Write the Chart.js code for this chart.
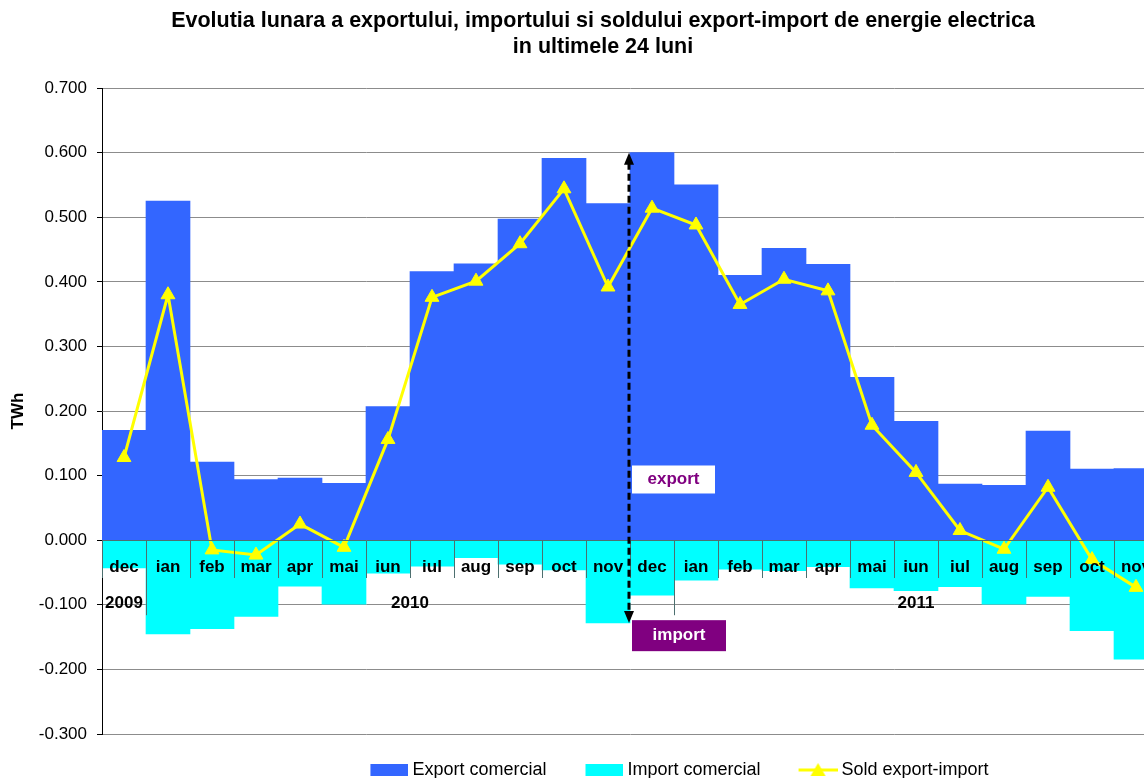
<!DOCTYPE html>
<html>
<head>
<meta charset="utf-8">
<script src="https://cdn.jsdelivr.net/npm/chart.js@4/dist/chart.umd.min.js"></script>
<style>
html, body { margin: 0; padding: 0; overflow: hidden; background: #fff; }
canvas { display: block; }
</style>
</head>
<body>
<canvas id="grafic" width="1207" height="786"></canvas>
<script>
// luni si ani (ultimele 24 luni)
var luni = ['dec', 'ian', 'feb', 'mar', 'apr', 'mai', 'iun', 'iul', 'aug', 'sep', 'oct', 'nov',
            'dec', 'ian', 'feb', 'mar', 'apr', 'mai', 'iun', 'iul', 'aug', 'sep', 'oct', 'nov'];
var ani = ['2009',
           '2010', '2010', '2010', '2010', '2010', '2010', '2010', '2010', '2010', '2010', '2010', '2010',
           '2011', '2011', '2011', '2011', '2011', '2011', '2011', '2011', '2011', '2011', '2011'];

// valori in TWh
var exportComercial = [0.170, 0.525, 0.121, 0.094, 0.096, 0.088, 0.207, 0.416, 0.428, 0.497, 0.591, 0.521,
                       0.600, 0.550, 0.410, 0.452, 0.427, 0.252, 0.184, 0.087, 0.085, 0.169, 0.110, 0.111];
var importComercial = [-0.043, -0.145, -0.137, -0.118, -0.071, -0.099, -0.051, -0.040, -0.027, -0.037, -0.046, -0.128,
                       -0.085, -0.062, -0.045, -0.047, -0.041, -0.074, -0.078, -0.072, -0.099, -0.087, -0.140, -0.184];
var soldExportImport = [0.128, 0.380, -0.015, -0.023, 0.025, -0.011, 0.156, 0.376, 0.401, 0.459, 0.544, 0.392,
                        0.514, 0.488, 0.365, 0.404, 0.386, 0.178, 0.105, 0.015, -0.014, 0.082, -0.030, -0.073];

Chart.defaults.font.family = '"Liberation Sans", Arial, sans-serif';
Chart.defaults.color = '#000';

// mostre pentru legenda
function mostraLegenda(tip) {
    var c = document.createElement('canvas');
    c.width = 58;
    c.height = 16;
    var g = c.getContext('2d');
    if (tip === 'linie') {
        g.strokeStyle = '#FFFF00';
        g.lineWidth = 3;
        g.beginPath();
        g.moveTo(19, 8);
        g.lineTo(58, 8);
        g.stroke();
        g.fillStyle = '#FFFF00';
        g.beginPath();
        g.moveTo(38.5, 1);
        g.lineTo(46, 14);
        g.lineTo(31, 14);
        g.closePath();
        g.fill();
    } else {
        g.fillStyle = tip;
        g.fillRect(20, 2, 38, 12);
    }
    return c;
}
var mostre = [mostraLegenda('#3366FF'), mostraLegenda('#00FFFF'), mostraLegenda('linie')];

// sageata export/import, anii si liniile de grup
var adnotari = {
    id: 'adnotari',
    afterLayout: function (chart) {
        chart.titleBlock.left += 24;
        chart.titleBlock.right += 24;
        chart.legend.left += 93;
        chart.legend.right += 93;
        chart.legend.top += 3;
        chart.legend.bottom += 3;
    },
    afterDraw: function (chart) {
        var ctx = chart.ctx;
        var x = chart.scales.x;
        var y = chart.scales.y;
        var y0 = y.getPixelForValue(0);
        ctx.save();

        // anii si separatoarele dintre ani
        ctx.font = 'bold 17px "Liberation Sans", Arial, sans-serif';
        ctx.fillStyle = '#000';
        ctx.textAlign = 'center';
        ctx.textBaseline = 'middle';
        ctx.strokeStyle = '#4d6f6f';
        ctx.lineWidth = 1;
        var start = 0;
        for (var i = 1; i <= ani.length; i++) {
            if (i === ani.length || ani[i] !== ani[start]) {
                var xa = x.getPixelForValue(start - 0.5);
                var xb = x.getPixelForValue(i - 1 + 0.5);
                ctx.fillText(ani[start], (xa + xb) / 2, y0 + 63);
                if (i < ani.length) {
                    ctx.beginPath();
                    ctx.moveTo(Math.round(xb) + 0.5, y0);
                    ctx.lineTo(Math.round(xb) + 0.5, y0 + 75);
                    ctx.stroke();
                }
                start = i;
            }
        }

        // sageata punctata
        var xs = x.getPixelForValue(11.5) - 1;
        var ySus = y.getPixelForValue(0.600);
        var yJos = y.getPixelForValue(-0.128);
        ctx.strokeStyle = '#000';
        ctx.lineWidth = 3;
        ctx.setLineDash([7, 4]);
        ctx.beginPath();
        ctx.moveTo(xs, ySus + 10);
        ctx.lineTo(xs, yJos - 10);
        ctx.stroke();
        ctx.setLineDash([]);
        ctx.fillStyle = '#000';
        ctx.beginPath();
        ctx.moveTo(xs, ySus);
        ctx.lineTo(xs + 5, ySus + 12);
        ctx.lineTo(xs - 5, ySus + 12);
        ctx.closePath();
        ctx.fill();
        ctx.beginPath();
        ctx.moveTo(xs, yJos);
        ctx.lineTo(xs + 5, yJos - 12);
        ctx.lineTo(xs - 5, yJos - 12);
        ctx.closePath();
        ctx.fill();

        // etichete export / import
        var yExp = y.getPixelForValue(0.094);
        ctx.fillStyle = '#fff';
        ctx.fillRect(xs + 3, yExp - 14, 83, 28);
        ctx.fillStyle = '#800080';
        ctx.fillText('export', xs + 44.5, yExp);
        var yImp = y.getPixelForValue(-0.147);
        ctx.fillStyle = '#800080';
        ctx.fillRect(xs + 3, yImp - 15, 94, 31);
        ctx.fillStyle = '#fff';
        ctx.fillText('import', xs + 50, yImp);
        ctx.restore();
    }
};

new Chart(document.getElementById('grafic'), {
    type: 'bar',
    data: {
        labels: luni,
        datasets: [{
            label: 'Export comercial',
            data: exportComercial,
            backgroundColor: '#3366FF',
            borderWidth: 0,
            barPercentage: 1,
            categoryPercentage: 1,
            stack: 'comert',
            order: 2
        }, {
            label: 'Import comercial',
            data: importComercial,
            backgroundColor: '#00FFFF',
            borderWidth: 0,
            barPercentage: 1,
            categoryPercentage: 1,
            stack: 'comert',
            order: 2
        }, {
            type: 'line',
            label: 'Sold export-import',
            data: soldExportImport,
            borderColor: '#FFFF00',
            backgroundColor: '#FFFF00',
            borderWidth: 3,
            pointStyle: 'triangle',
            pointRadius: 8,
            pointBorderWidth: 1,
            pointBackgroundColor: '#FFFF00',
            pointBorderColor: '#FFFF00',
            tension: 0,
            stack: 'sold',
            order: 1
        }]
    },
    options: {
        responsive: false,
        animation: false,
        devicePixelRatio: 1,
        layout: { padding: { left: 0, right: 49, top: 0, bottom: 0 } },
        plugins: {
            title: {
                display: true,
                text: ['Evolutia lunara a exportului, importului si soldului export-import de energie electrica',
                       'in ultimele 24 luni'],
                font: { size: 21.5, weight: 'bold', lineHeight: 1.21 },
                padding: { top: 8, bottom: 28 },
                color: '#000'
            },
            legend: {
                position: 'bottom',
                labels: {
                    usePointStyle: true,
                    pointStyleWidth: 48,
                    boxHeight: 16,
                    padding: 24,
                    font: { size: 18 },
                    color: '#000',
                    generateLabels: function (chart) {
                        var items = Chart.defaults.plugins.legend.labels.generateLabels(chart);
                        items.sort(function (a, b) { return a.datasetIndex - b.datasetIndex; });
                        items.forEach(function (it) { it.pointStyle = mostre[it.datasetIndex]; });
                        return items;
                    }
                }
            },
            tooltip: { enabled: false }
        },
        scales: {
            x: {
                type: 'category',
                stacked: true,
                offset: true,
                position: { y: 0 },
                grid: {
                    offset: true,
                    drawOnChartArea: false,
                    drawTicks: true,
                    tickLength: 37,
                    tickColor: '#4d6f6f',
                    z: 1
                },
                border: { display: true, color: '#4d6f6f', z: 1 },
                ticks: {
                    font: { size: 17, weight: 'bold' },
                    color: '#000',
                    padding: -20,
                    autoSkip: false,
                    maxRotation: 0,
                    z: 1
                }
            },
            y: {
                stacked: true,
                min: -0.3,
                max: 0.7,
                afterFit: function (scale) { scale.width = 102; },
                ticks: {
                    stepSize: 0.1,
                    font: { size: 17 },
                    color: '#000',
                    padding: 10,
                    callback: function (v) {
                        if (Math.abs(v) < 1e-9) { v = 0; }
                        return v.toFixed(3);
                    }
                },
                grid: {
                    color: '#8c8c8c',
                    lineWidth: 1,
                    tickLength: 5,
                    tickColor: '#000'
                },
                border: { display: true, color: '#000', width: 1 },
                title: {
                    display: true,
                    text: 'TWh',
                    font: { size: 17, weight: 'bold' },
                    padding: { top: 8, bottom: 4 },
                    color: '#000'
                }
            }
        }
    },
    plugins: [adnotari]
});
</script>
</body>
</html>
